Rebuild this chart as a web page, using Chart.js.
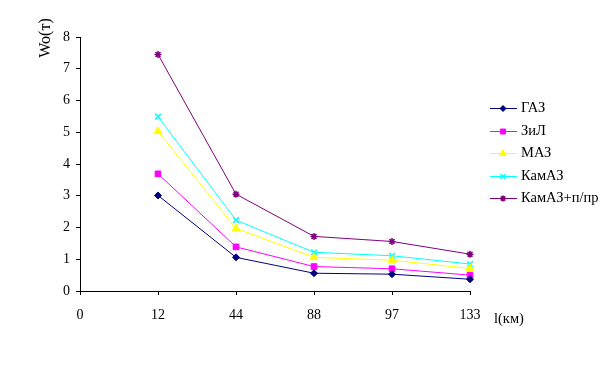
<!DOCTYPE html>
<html lang="ru">
<head>
<meta charset="UTF-8">
<title>Wo(т)</title>
<script src="https://cdn.jsdelivr.net/npm/chart.js"></script>
<style>
  html, body { margin: 0; padding: 0; background: #fff; }
  #wrap { width: 612px; height: 389px; }
</style>
</head>
<body>
<div id="wrap"><canvas id="myChart" width="612" height="389"></canvas></div>
<script>
// категории по оси l(км); на "0" данных нет
const categories = ['0', '12', '44', '88', '97', '133'];
const yTicks = [0, 1, 2, 3, 4, 5, 6, 7, 8];

const seriesNames = ['ГАЗ', 'ЗиЛ', 'МАЗ', 'КамАЗ', 'КамАЗ+п/пр'];
const gaz      = [3.01, 1.06, 0.56, 0.53, 0.37];
const zil      = [3.69, 1.39, 0.77, 0.70, 0.50];
const maz      = [5.03, 1.97, 1.06, 0.97, 0.71];
const kamaz    = [5.49, 2.23, 1.22, 1.11, 0.85];
const kamazPr  = [7.45, 3.05, 1.72, 1.56, 1.16];

const colors = ['#000080', '#ff00ff', '#ffff00', '#00ffff', '#800080'];
const markers = ['rectRot', 'rect', 'triangle', 'crossRot', 'star'];
const radii = [3.5, 4, 4.5, 4, 3.5];
const serif = '"Liberation Serif", "Times New Roman", serif';

const allSeries = [gaz, zil, maz, kamaz, kamazPr];
const datasets = allSeries.map(function (vals, i) {
    return {
        label: seriesNames[i],
        data: [null].concat(vals),
        borderColor: colors[i],
        backgroundColor: colors[i],
        borderWidth: 1,
        pointStyle: markers[i],
        pointRadius: radii[i],
        pointBorderWidth: (markers[i] == 'crossRot' || markers[i] == 'star') ? 1.5 : 1,
        tension: 0,
        spanGaps: false
    };
});

// своя легенда и подписи осей
const extras = {
    id: 'extras',
    afterDraw(chart) {
        const ctx = chart.ctx;
        ctx.save();
        ctx.fillStyle = '#000';
        ctx.font = '14.5px ' + serif;
        ctx.textBaseline = 'middle';
        const rows = [108, 131, 153, 176, 198];
        for (let i = 0; i < seriesNames.length; i++) {
            const y = rows[i];
            ctx.strokeStyle = colors[i];
            ctx.lineWidth = 1;
            ctx.beginPath();
            ctx.moveTo(490, y + 0.5);
            ctx.lineTo(517, y + 0.5);
            ctx.stroke();
            ctx.fillStyle = colors[i];
            ctx.lineWidth = datasets[i].pointBorderWidth;
            Chart.helpers.drawPoint(ctx, {
                pointStyle: markers[i], radius: radii[i] - 0.5, rotation: 0, borderWidth: 1
            }, 503, y + 0.5);
            ctx.fillStyle = '#000';
            ctx.textAlign = 'left';
            ctx.fillText(seriesNames[i], 521, y);
        }
        // подпись оси X
        ctx.fillText('l(км)', 494, 319);
        // подпись оси Y (повернута)
        ctx.translate(46, 38);
        ctx.rotate(-Math.PI / 2);
        ctx.textAlign = 'center';
        ctx.font = '16px ' + serif;
        ctx.fillText('Wo(т)', 0, 0);
        ctx.restore();
    }
};

new Chart('myChart', {
    type: 'line',
    data: { labels: categories, datasets: datasets },
    options: {
        responsive: false,
        animation: false,
        layout: { padding: { top: 37, right: 142, left: 0, bottom: 0 } },
        plugins: { legend: { display: false }, tooltip: { enabled: false } },
        scales: {
            x: {
                type: 'category',
                offset: false,
                border: { color: '#000', width: 1 },
                grid: { drawOnChartArea: false, color: '#000', tickLength: 4 },
                ticks: { color: '#000', font: { family: serif, size: 14 }, padding: 12, maxRotation: 0, autoSkip: false },
                afterFit(scale) { scale.height = 98; }
            },
            y: {
                min: 0,
                max: 8,
                border: { color: '#000', width: 1 },
                grid: { drawOnChartArea: false, color: '#000', tickLength: 4 },
                ticks: {
                    color: '#000', font: { family: serif, size: 14 }, padding: 6, stepSize: 1,
                    callback: function (v) { return yTicks.includes(v) ? v : ''; }
                },
                afterFit(scale) { scale.width = 80; }
            }
        }
    },
    plugins: [extras]
});
</script>
</body>
</html>
